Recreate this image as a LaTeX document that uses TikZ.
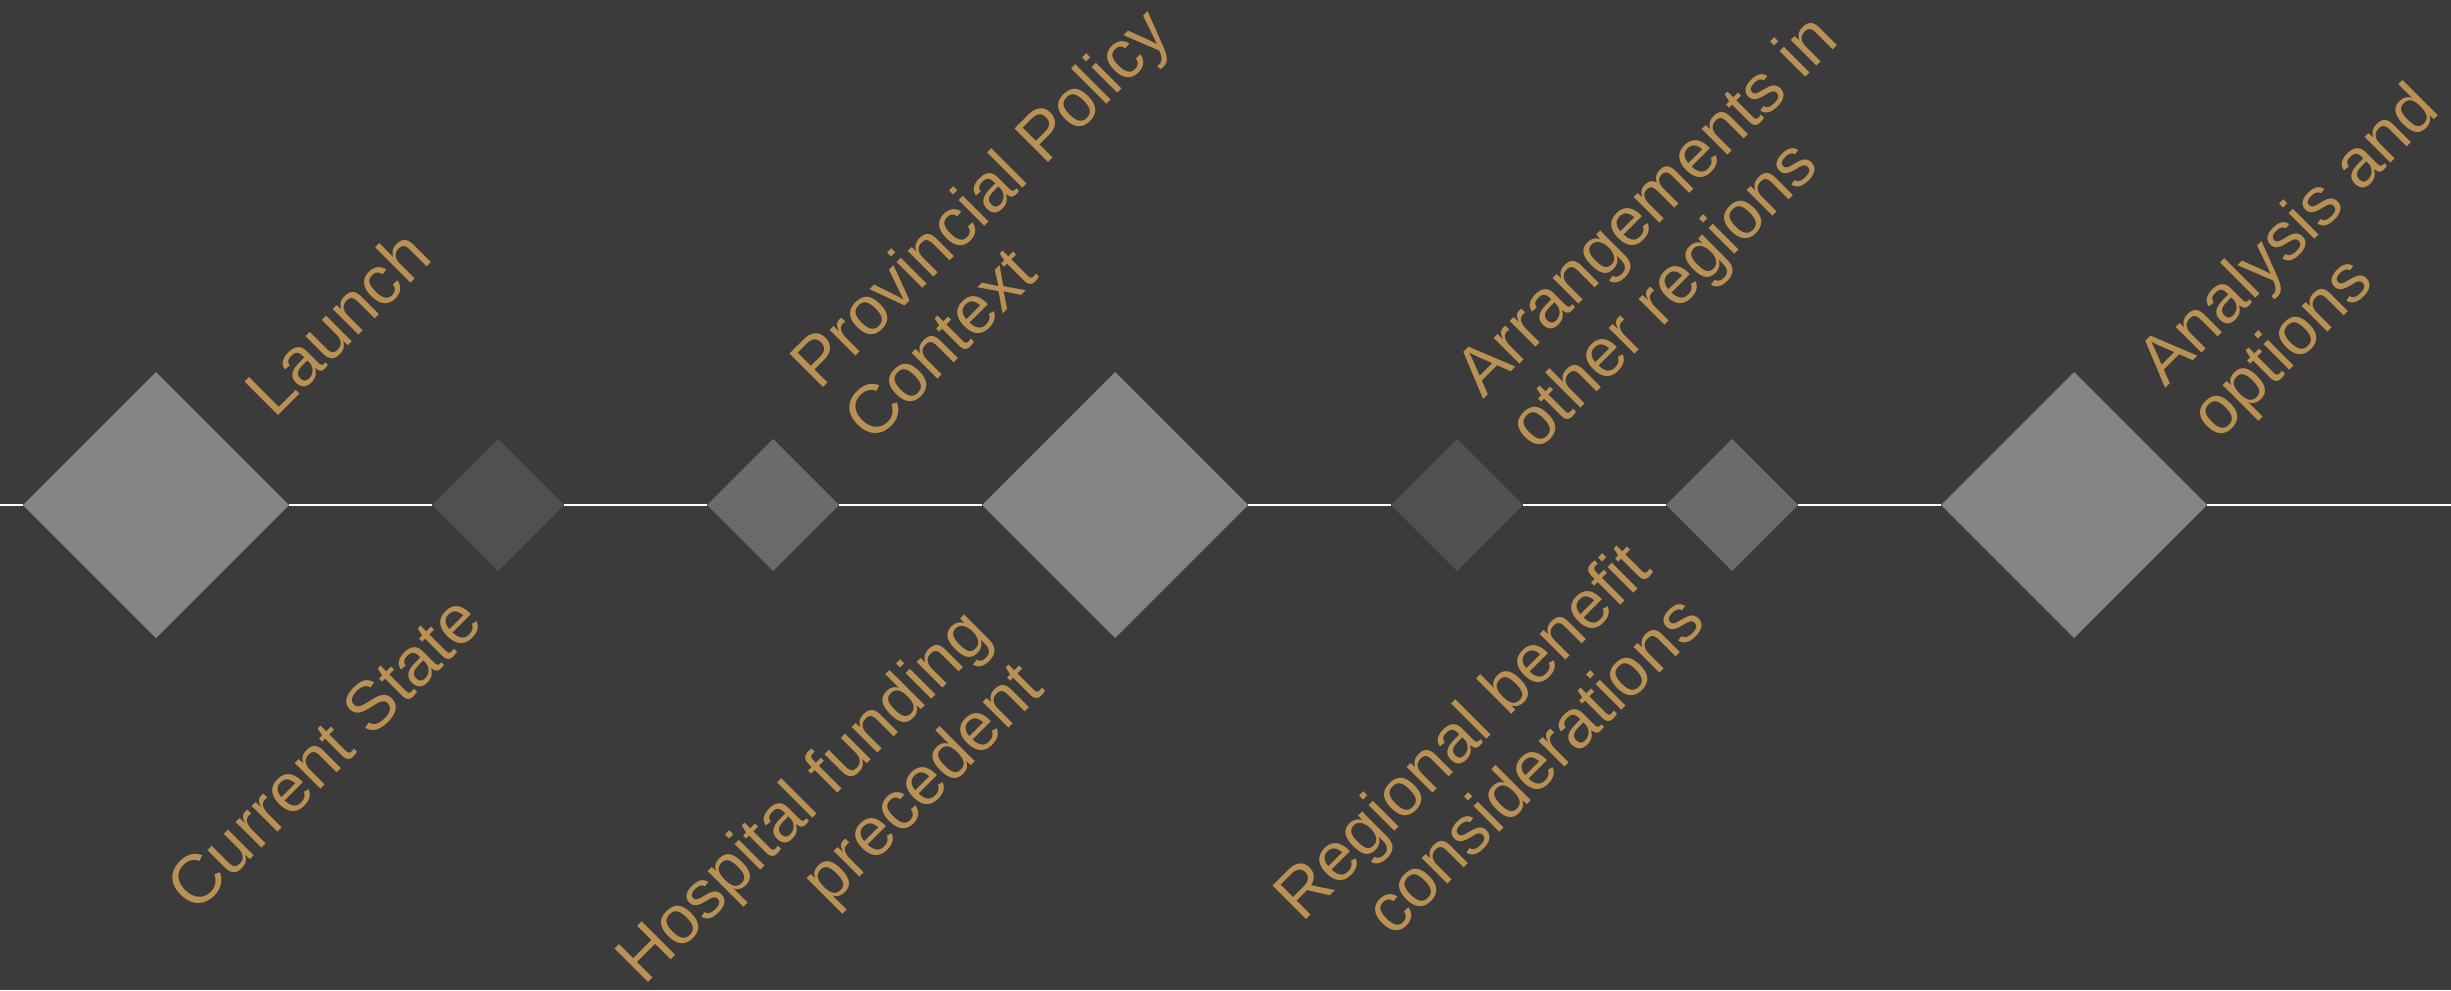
\documentclass[tikz,border=0pt]{standalone}
\usepackage{fontspec}
\newfontfamily\labelfont{Liberation Sans}
\usetikzlibrary{shapes.geometric}
\usetikzlibrary{positioning}
\definecolor{bgdark}{RGB}{59,59,59}
\definecolor{stonelight}{RGB}{133,133,133}
\definecolor{stonemid}{RGB}{107,107,107}
\definecolor{stonedark}{RGB}{80,80,80}
\definecolor{labelgold}{RGB}{185,145,85}
\tikzset{
  bigstone/.style={
    diamond,
    fill=stonelight,
    inner sep=0pt, outer sep=0pt,
    minimum width=2.66cm, minimum height=2.66cm,
  },
  smallstone/.style={
    diamond,
    inner sep=0pt, outer sep=0pt,
    minimum width=1.32cm, minimum height=1.32cm,
  },
  toplabel/.style={
    rotate=45,
    anchor=base west,
    align=left,
    inner sep=0pt,
    text=labelgold,
    font=\labelfont\fontsize{19.6}{21.3}\selectfont,
  },
  botlabel/.style={toplabel, anchor=base east, align=right},
  timeline/.style={draw=white, line width=0.6pt},
}

\begin{document}
\begin{tikzpicture}
  \fill[bgdark] (0,0) rectangle (24.51,-9.9);
  \useasboundingbox (0,0) rectangle (24.51,-9.9);

  % milestones along the line
  \node[bigstone] (launch) at (1.56,-5.05) {};
  \node[smallstone, fill=stonedark, right=1.43cm of launch] (current) {};
  \node[smallstone, fill=stonemid, right=1.43cm of current] (policy) {};
  \node[bigstone, right=1.43cm of policy] (hospital) {};
  \node[smallstone, fill=stonedark, right=1.43cm of hospital] (regions) {};
  \node[smallstone, fill=stonemid, right=1.43cm of regions] (benefit) {};
  \node[bigstone, right=1.43cm of benefit] (options) {};

  \coordinate (lineL) at (0,-5.05);
  \coordinate (lineR) at (24.51,-5.05);
  \path[timeline] (lineL) -- (launch) -- (current) -- (policy) -- (hospital)
    -- (regions) -- (benefit) -- (options) -- (lineR);

  % labels (base anchor sits on the last line)
  \node[toplabel] (launchlbl) at (2.74,-4.20) {Launch};
  \node[botlabel] (currentlbl) at (4.86,-6.24) {Current State};
  \node[toplabel] (policylbl) at (8.72,-4.45) {Provincial Policy\\Context};
  \node[botlabel] (hospitallbl) at (10.47,-6.90) {Hospital funding\\precedent};
  \node[toplabel] (regionslbl) at (15.36,-4.53) {Arrangements in\\other regions};
  \node[botlabel] (benefitlbl) at (17.08,-6.24) {Regional benefit\\considerations};
  \node[toplabel] (optionslbl) at (22.18,-4.42) {Analysis and\\options};
\end{tikzpicture}
\end{document}
